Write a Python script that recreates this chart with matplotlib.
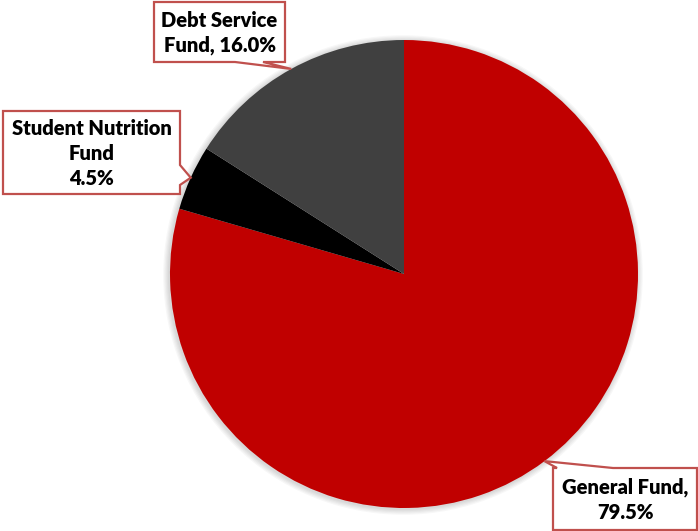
import numpy as np
import matplotlib
matplotlib.use("Agg")
import matplotlib.pyplot as plt
from matplotlib.patches import Polygon, Circle

# Fund shares (percent), drawn clockwise from 12 o'clock
funds = ["General Fund", "Student Nutrition Fund", "Debt Service Fund"]
shares = [79.5, 4.5, 16.0]
colors = ["#C00000", "#000000", "#404040"]
label_texts = ["General Fund,\n79.5%", "Student Nutrition\nFund\n4.5%", "Debt Service\nFund, 16.0%"]

W, H = 698, 531
fig = plt.figure(figsize=(W / 100, H / 100), dpi=100)
ax = fig.add_axes([0, 0, 1, 1])

cx, cy, r = 404, H - 274, 234

# soft shadow around the pie
for k in range(5):
    ax.add_patch(Circle((cx - 1, cy - 1), r + 1.0 + k * 1.2, color="#000000",
                        alpha=0.03, lw=0, zorder=0))

wedges, _ = ax.pie(shares, colors=colors, startangle=90, counterclock=False,
                   center=(cx, cy), radius=r, wedgeprops=dict(linewidth=0))
for w in wedges:
    w.set_zorder(1)
ax.set_xlim(0, W)
ax.set_ylim(0, H)
ax.set_aspect("equal")
ax.axis("off")

# callout boxes: (left, top, right, bottom) in pixels from the top-left,
# the edge carrying the pointer and the span of its base along that edge
boxes = [
    dict(box=(553, 468, 697, 530), edge="top", base=(557, 613)),
    dict(box=(3, 111, 180, 194), edge="right", base=(165, 185)),
    dict(box=(154, 2, 285, 62), edge="bottom", base=(235, 263)),
]

edge_col = "#C0504D"
for w, spec, txt in zip(wedges, boxes, label_texts):
    ang = np.deg2rad((w.theta1 + w.theta2) / 2)
    tip = (cx + r * np.cos(ang), cy + r * np.sin(ang))
    L, T, R, B = spec["box"]
    T, B = H - T, H - B
    a, b = spec["base"]
    if spec["edge"] == "top":
        pts = [(L, T), (a, T), tip, (b, T), (R, T), (R, B), (L, B)]
    elif spec["edge"] == "right":
        pts = [(L, T), (R, T), (R, H - a), tip, (R, H - b), (R, B), (L, B)]
    else:
        pts = [(L, T), (R, T), (R, B), (b, B), tip, (a, B), (L, B)]
    ax.add_patch(Polygon(pts, closed=True, facecolor="white", edgecolor=edge_col,
                         lw=1.6, zorder=3, joinstyle="miter"))
    ax.text((L + R) / 2, (T + B) / 2 - 1, txt, ha="center", va="center",
            fontsize=14.5, fontweight="heavy", family=["Lato", "DejaVu Sans"],
            color="black", linespacing=1.4, zorder=4)

fig.savefig("out.png", dpi=100)
